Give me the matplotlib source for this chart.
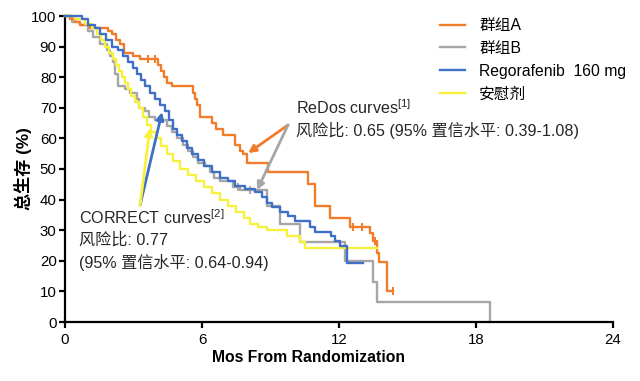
import matplotlib
matplotlib.use("Agg")
import matplotlib.pyplot as plt

plt.rcParams['font.family'] = ['Liberation Sans', 'Noto Sans CJK SC', 'DejaVu Sans']
plt.rcParams['mathtext.fontset'] = 'custom'
plt.rcParams['mathtext.rm'] = 'Liberation Sans'

# Kaplan-Meier curves (months, % survival)
a_t = [0, 0.22, 0.44, 0.66, 1.1, 1.9, 2.06, 2.23, 2.4, 2.58, 2.98, 3.3, 4.07, 4.2, 4.34, 4.47, 4.69,
       5.6, 5.7, 5.78, 5.9, 6.44, 6.6, 6.92, 7.45, 7.67, 7.8, 7.97, 8.9, 10.64, 10.95, 11.6, 12.48,
       13.36, 13.5, 13.67, 13.75, 14.1, 14.37]
a_s = [100, 99, 98, 97, 96, 95, 94, 92, 91, 88, 87, 86, 84, 82, 80, 78, 77,
       75, 73, 71, 67, 65, 63, 61, 58, 56, 55, 52, 49, 45, 38, 34, 31,
       29, 26.5, 22.5, 19.6, 10, 10]
a_cens_t = [3.64, 3.94, 12.6, 13.0, 13.58, 14.37]
a_cens_s = [86, 86, 31, 31, 26.5, 10]

b_t = [0, 0.3, 0.66, 1.0, 1.23, 1.53, 1.84, 1.97, 2.1, 2.19, 2.32, 2.63, 2.85, 3.15, 3.24, 3.5, 3.68,
       3.94, 4.47, 4.69, 4.9, 5.17, 5.39, 5.6, 5.83, 6.13, 6.35, 6.53, 6.79, 7.36, 7.67, 8.85, 9.42,
       10.3, 12.26, 13.5, 13.67, 18.6]
b_s = [100, 98, 97, 95, 93, 91, 89, 87, 85, 81, 77, 76, 75, 73, 70, 69, 67,
       66, 64, 62, 60, 58, 56, 54, 52, 51, 49, 47, 46, 44, 43, 38, 32,
       26, 20, 13, 6.5, 0]
b_cens_t = [4.1, 7.58, 8.1]
b_cens_s = [66, 44, 43]

reg_t = [0, 0.75, 1.0, 1.3, 1.53, 1.8, 2.06, 2.32, 2.54, 2.76, 2.98, 3.15, 3.33, 3.5, 3.72, 3.94,
         4.16, 4.38, 4.56, 4.73, 4.9, 5.12, 5.34, 5.56, 5.83, 6.09, 6.44, 6.79, 7.14, 7.45, 7.88,
         8.32, 8.63, 8.85, 9.07, 9.42, 9.77, 10.07, 10.73, 10.95, 11.65, 11.83, 12.05, 12.35, 13.05]
reg_s = [100, 99, 97, 96, 94, 92, 90, 89, 87, 85, 83, 81, 79, 77, 75, 73,
         71, 69, 66, 63, 61, 59, 57, 55, 53, 51, 49, 47, 46, 44.5, 43.5,
         42.5, 41, 39, 37.5, 36, 34.5, 33, 31, 29.5, 28, 26.5, 25, 19.3, 19.3]

pbo_t = [0, 0.44, 0.88, 1.18, 1.4, 1.58, 1.75, 1.93, 2.1, 2.23, 2.37, 2.5, 2.63, 2.76, 2.89, 3.07,
         3.24, 3.42, 3.6, 3.77, 3.99, 4.2, 4.47, 4.73, 5.04, 5.39, 5.74, 6.09, 6.44, 6.79, 7.14,
         7.49, 7.84, 8.1, 8.45, 8.85, 9.72, 10.3, 10.5, 13.67]
pbo_s = [100, 99, 97.5, 96, 94, 92, 90, 88, 86, 84, 82, 80, 78, 76, 74, 72,
         70, 67, 64.5, 62, 60, 57.5, 55, 52.5, 50, 48, 46, 44, 42, 40, 38,
         36, 34, 32, 31, 30, 28, 26, 24.2, 24.2]

labels = ['群组A', '群组B', 'Regorafenib  160 mg', '安慰剂']
colors = ['#F07C2C', '#A6A6A6', '#3F6FC6', '#F7F03C']

fig = plt.figure(figsize=(6.4, 3.81), dpi=100)
ax = fig.add_axes([65 / 640, 1 - 322 / 381, (613 - 65) / 640, (322 - 16) / 381])

lw = 1.7
la, = ax.step(a_t, a_s, where='post', color=colors[0], lw=lw, clip_on=False, zorder=3)
lb, = ax.step(b_t, b_s, where='post', color=colors[1], lw=lw, clip_on=False, zorder=2)
lr, = ax.step(reg_t, reg_s, where='post', color=colors[2], lw=lw, clip_on=False, zorder=4)
lp, = ax.step(pbo_t, pbo_s, where='post', color=colors[3], lw=lw, clip_on=False, zorder=3)
ax.plot(a_cens_t, a_cens_s, ls='none', marker='|', ms=6, mew=1.4, color=colors[0], zorder=3)
ax.plot(b_cens_t, b_cens_s, ls='none', marker='|', ms=6, mew=1.4, color=colors[1], zorder=2)

ax.set_xlim(0, 24)
ax.set_ylim(0, 100)
ax.set_xticks([0, 6, 12, 18, 24])
ax.set_yticks(range(0, 101, 10))
ax.spines['top'].set_visible(False)
ax.spines['right'].set_visible(False)
for s in ['left', 'bottom']:
    ax.spines[s].set_linewidth(1.6)
ax.tick_params(direction='out', length=4, width=1.6, labelsize=10.8)
ax.tick_params(axis='x', pad=4)
ax.tick_params(axis='y', pad=2)
ax.set_xlabel('Mos From Randomization', fontsize=11.3, fontweight='bold')
ax.xaxis.set_label_coords((309 - 65) / 548, -(358 - 322) / 306, transform=ax.transAxes)
ax.xaxis.label.set_va('center')
ax.set_ylabel('总生存 (%)', fontsize=12.3, fontweight='bold')
ax.yaxis.set_label_coords(-(65 - 23) / 548, 0.5)
ax.yaxis.label.set_va('center')

# annotations
fs = 11.6
tc = '#262626'
ax.text(10.1, 70, r'ReDos curves$^{\mathrm{[1]}}$', fontsize=fs, va='center', color=tc)
ax.text(10.1, 62.7, '风险比: 0.65 (95% 置信水平: 0.39-1.08)', fontsize=fs, va='center', color=tc)
ax.text(0.6, 34, r'CORRECT curves$^{\mathrm{[2]}}$', fontsize=fs, va='center', color=tc)
ax.text(0.6, 26.8, '风险比: 0.77', fontsize=fs, va='center', color=tc)
ax.text(0.6, 19.6, '(95% 置信水平: 0.64-0.94)', fontsize=fs, va='center', color=tc)

arr = dict(arrowstyle='-|>', lw=2, mutation_scale=11, shrinkA=0, shrinkB=0)
ax.annotate('', xy=(8.02, 55.2), xytext=(9.77, 64.4), arrowprops=dict(color=colors[0], **arr), zorder=6)
ax.annotate('', xy=(8.41, 43.1), xytext=(9.77, 64.4), arrowprops=dict(color=colors[1], **arr), zorder=6)
ax.annotate('', xy=(4.25, 68.6), xytext=(3.29, 38.2), arrowprops=dict(color=colors[2], **arr), zorder=6)
ax.annotate('', xy=(3.72, 63.4), xytext=(3.29, 38.2), arrowprops=dict(color=colors[3], **arr), zorder=6)

ax.legend([la, lb, lr, lp], labels, loc='upper left', bbox_to_anchor=(440 / 640, 1 - 18 / 381),
          bbox_transform=fig.transFigure, frameon=False, fontsize=11.3, handlelength=1.6,
          handletextpad=0.9, labelspacing=0.5, borderpad=0, borderaxespad=0)

fig.savefig('out.png', dpi=100)
